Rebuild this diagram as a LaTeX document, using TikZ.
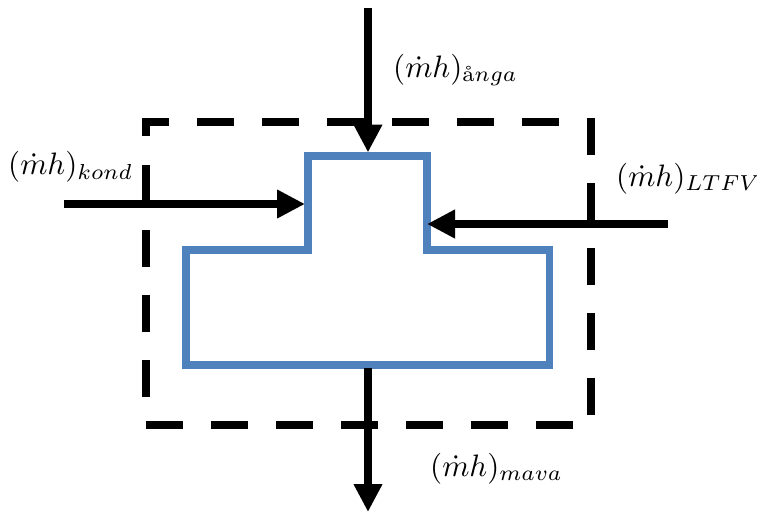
\documentclass[tikz,border=0pt]{standalone}
\usepackage{amsmath}
\usepackage{graphicx}
\usetikzlibrary{arrows.meta}
\definecolor{tblue}{RGB}{79,129,189}
\tikzset{
  flow/.style={line width=8pt, -{Triangle[length=28pt,width=27pt]}},
  border/.style={line width=8pt, line join=miter,
    dash pattern=on 37pt off 28pt, dash phase=56pt},
  tshape/.style={line width=7.5pt, draw=tblue, line join=miter},
  lab/.style={inner sep=0pt, anchor=base west}
}
\newcommand{\biglab}[1]{\scalebox{3.1}{$#1$}}
\begin{document}
\begin{tikzpicture}[x=1pt,y=-1pt]
\useasboundingbox (0,0) rectangle (757,512);
% dashed control volume
\coordinate (b0) at (146,145);
\coordinate (b1) at (146,122);
\coordinate (b2) at (591,122);
\coordinate (b3) at (591,425);
\coordinate (b4) at (146,425);
\draw[border] (b0) -- (b1) -- (b2) -- (b3) -- (b4) -- cycle;
% blue T shape
\coordinate (t1) at (308,156);
\coordinate (t2) at (427,156);
\coordinate (t3) at (427,250);
\coordinate (t4) at (549.5,250);
\coordinate (t5) at (549.5,365);
\coordinate (t6) at (186,365);
\coordinate (t7) at (186,250);
\coordinate (t8) at (308,250);
\draw[tshape] (t1) -- (t2) -- (t3) -- (t4) -- (t5) -- (t6) -- (t7) -- (t8) -- cycle;
% arrow end points
\coordinate (inTop) at (368,8);
\coordinate (tipTop) at (368,152.5);
\coordinate (inLeft) at (64,204);
\coordinate (tipLeft) at (305,204);
\coordinate (inRight) at (668,224);
\coordinate (tipRight) at (427,224);
\coordinate (outStart) at (368,368);
\coordinate (outTip) at (368,512);
\draw[flow] (inTop) -- (tipTop);
\draw[flow] (inLeft) -- (tipLeft);
\draw[flow] (inRight) -- (tipRight);
\draw[flow] (outStart) -- (outTip);
% labels
\node[lab] (lA) at (393,77) {\biglab{(\dot{m}h)_{\text{\aa}nga}}};
\node[lab] (lK) at (8,174.5) {\biglab{(\dot{m}h)_{kond}}};
\node[lab] (lL) at (616,186) {\biglab{(\dot{m}h)_{LTFV}}};
\node[lab] (lM) at (430,476) {\biglab{(\dot{m}h)_{mava}}};
\end{tikzpicture}
\end{document}
